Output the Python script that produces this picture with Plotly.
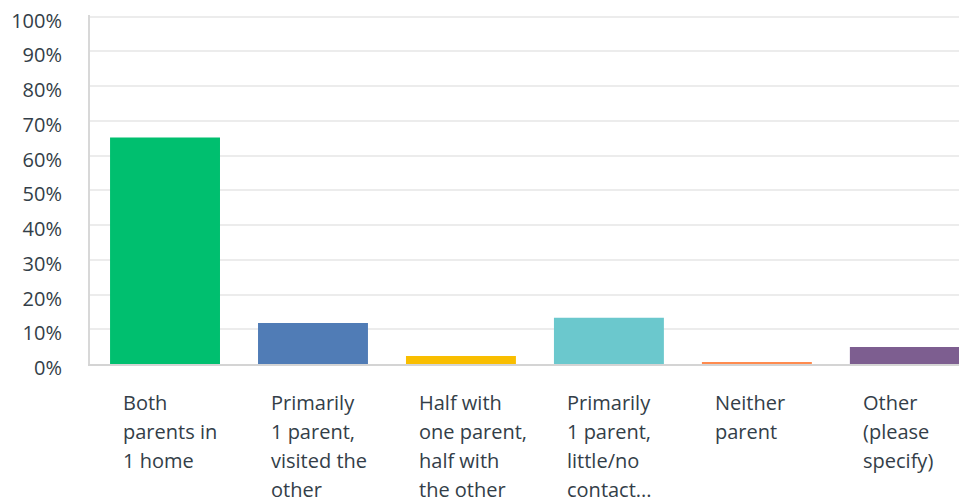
import plotly.graph_objects as go

categories = ["Both parents in 1 home", "Primarily 1 parent, visited the other",
              "Half with one parent, half with the other", "Primarily 1 parent, little/no contact...",
              "Neither parent", "Other (please specify)"]
label_lines = [
    ["Both", "parents in", "1 home"],
    ["Primarily", "1 parent,", "visited the", "other"],
    ["Half with", "one parent,", "half with", "the other"],
    ["Primarily", "1 parent,", "little/no", "contact..."],
    ["Neither", "parent"],
    ["Other", "(please", "specify)"],
]
values = [65.2, 11.8, 2.3, 13.3, 0.6, 4.9]
colors = ["#00BF6F", "#507CB6", "#F9BE00", "#6BC8CD", "#FF8B4F", "#7D5E90"]
y_ticks = list(range(0, 101, 10))
y_tick_text = [f"{v}%" for v in y_ticks]

FONT = "Open Sans"
TXT = "#333E48"

x_idx = list(range(len(categories)))
fig = go.Figure(go.Bar(x=x_idx, y=values, marker=dict(color=colors, line=dict(width=0)),
                       width=0.743, hoverinfo="skip"))

annotations = []
for i, lines in enumerate(label_lines):
    for k, line in enumerate(lines):
        annotations.append(dict(
            x=i - 0.298, xref="x", y=0, yref="paper", xanchor="left", yanchor="middle",
            yshift=-(38 + 29 * k), text=line, showarrow=False,
            font=dict(family=FONT, size=20, color=TXT)))

fig.update_layout(
    width=959, height=494,
    margin=dict(l=82, r=0, t=7, b=138),
    paper_bgcolor="white", plot_bgcolor="white",
    showlegend=False,
    annotations=annotations,
    xaxis=dict(range=[-0.507, 5.42], showticklabels=False, showgrid=False, zeroline=False,
               showline=True, linecolor="#d4d4d4", linewidth=2, ticks=""),
    yaxis=dict(range=[0, 100.5], tickvals=y_ticks, ticktext=y_tick_text, showgrid=True,
               gridcolor="#ececec", gridwidth=2, zeroline=False, showline=True,
               linecolor="#d8d8d8", linewidth=2, ticks="",
               tickfont=dict(family=FONT, size=20, color=TXT),
               ticklabelstandoff=22, ticklabelshift=4, ticklabeloverflow="allow"),
)

fig.write_html("out.html")
